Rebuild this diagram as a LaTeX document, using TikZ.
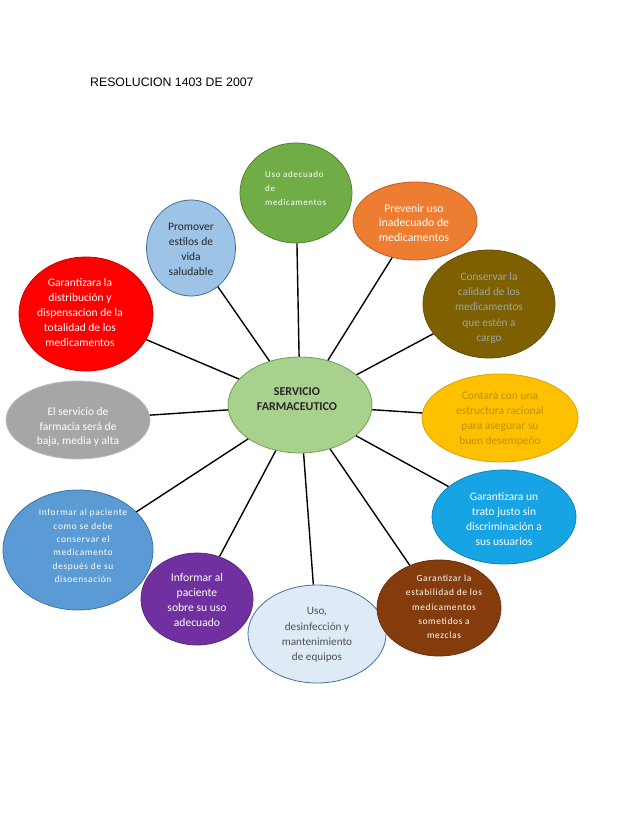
\documentclass[tikz,border=0pt]{standalone}
\usepackage{fontspec}
\setmainfont{Carlito}
\newfontfamily\titlefont{Liberation Sans}
\newfontfamily\widefont[LetterSpace=7]{Carlito}
\usepackage{tikz}
\usetikzlibrary{shapes.geometric}
\definecolor{centrefill}{RGB}{169, 209, 142}
\definecolor{centreline}{RGB}{112, 160, 80}
\definecolor{usofill}{RGB}{112, 173, 71}
\definecolor{usoline}{RGB}{84, 130, 53}
\definecolor{orangefill}{RGB}{237, 125, 49}
\definecolor{orangeline}{RGB}{190, 95, 35}
\definecolor{skyfill}{RGB}{157, 195, 230}
\definecolor{blueline}{RGB}{65, 113, 156}
\definecolor{olivefill}{RGB}{127, 96, 0}
\definecolor{olivetext}{RGB}{150, 170, 172}
\definecolor{redfill}{RGB}{255, 0, 0}
\definecolor{redline}{RGB}{200, 0, 0}
\definecolor{greyfill}{RGB}{166, 166, 166}
\definecolor{yellowfill}{RGB}{255, 192, 0}
\definecolor{yellowtext}{RGB}{191, 144, 0}
\definecolor{cyanfill}{RGB}{22, 164, 228}
\definecolor{midbluefill}{RGB}{91, 155, 213}
\definecolor{purplefill}{RGB}{112, 48, 160}
\definecolor{palefill}{RGB}{222, 235, 247}
\definecolor{paletext}{RGB}{80, 80, 80}
\definecolor{brownfill}{RGB}{132, 60, 12}
\definecolor{darktext}{RGB}{38, 38, 38}
\tikzstyle{bubble} = [ellipse, draw, line width=0.8pt, inner sep=0pt]
\tikzstyle{bubbletext} = [align=center, inner sep=0pt, font=\fontsize{11.5}{15}\selectfont]
\tikzstyle{line} = [draw, line width=1.4pt, black]

\begin{document}
\begin{tikzpicture}[x=1pt, y=-1pt]
    \useasboundingbox (0,0) rectangle (638,826);
    \node (title) [anchor=base west, inner sep=0pt, font=\titlefont\fontsize{12.3}{14}\selectfont] at (90,87) {RESOLUCION 1403 DE 2007};

    % ellipses
    \node (serv) [bubble, fill=centrefill, draw=centreline, minimum width=144pt, minimum height=96pt] at (300,405) {};
    \node (uso) [bubble, fill=usofill, draw=usoline, minimum width=112pt, minimum height=100pt] at (296,193) {};
    \node (prev) [bubble, fill=orangefill, draw=orangeline, minimum width=124pt, minimum height=78pt] at (415,221) {};
    \node (prom) [bubble, fill=skyfill, draw=blueline, minimum width=89pt, minimum height=96pt] at (191,248) {};
    \node (cons) [bubble, fill=olivefill, draw=olivefill!80!black, minimum width=132pt, minimum height=108pt] at (489,304) {};
    \node (dist) [bubble, fill=redfill, draw=redline, minimum width=134pt, minimum height=114pt] at (86,314) {};
    \node (nivel) [bubble, fill=greyfill, draw=greyfill!75, minimum width=144pt, minimum height=78pt] at (78,420) {};
    \node (estr) [bubble, fill=yellowfill, draw=yellowfill!85!black, minimum width=156pt, minimum height=88pt] at (500,418) {};
    \node (trato) [bubble, fill=cyanfill, draw=cyanfill!80!black, minimum width=144pt, minimum height=94pt] at (504,517) {};
    \node (guarda) [bubble, fill=midbluefill, draw=blueline, minimum width=150pt, minimum height=120pt] at (78,550) {};
    \node (info) [bubble, fill=purplefill, draw=purplefill!80!black, minimum width=112pt, minimum height=92pt] at (197,599) {};
    \node (equip) [bubble, fill=palefill, draw=blueline, minimum width=138pt, minimum height=98pt] at (317,634) {};
    \node (estab) [bubble, fill=brownfill, draw=brownfill!80!black, minimum width=124pt, minimum height=96pt] at (439,608) {};

    % texts
    \node (servtext) [bubbletext, text=darktext, font=\bfseries\fontsize{12}{15}\selectfont] at (297,399) {SERVICIO\\FARMACEUTICO};
    \node (usotext) [bubbletext, align=left, anchor=west, text=white, font=\widefont\fontsize{9}{14}\selectfont] at (265,188) {Uso adecuado\\de\\medicamentos};
    \node (prevtext) [bubbletext, text=white, font=\fontsize{11.7}{14.7}\selectfont] at (414,223) {Prevenir uso\\inadecuado de\\medicamentos};
    \node (promtext) [bubbletext, text=darktext] at (191,249) {Promover\\estilos de\\vida\\saludable};
    \node (constext) [bubbletext, text=olivetext, font=\fontsize{11.3}{15.3}\selectfont] at (489,308) {Conservar la\\calidad de los\\medicamentos\\que estén a\\cargo};
    \node (disttext) [bubbletext, text=white] at (80,313) {Garantizara la\\distribución y\\dispensacion de la\\totalidad de los\\medicamentos};
    \node (niveltext) [bubbletext, text=white, font=\fontsize{11.5}{14.5}\selectfont] at (78,427) {El servicio de\\farmacia será de\\baja, media y alta};
    \node (estrtext) [bubbletext, text=yellowtext, font=\fontsize{11.5}{14.8}\selectfont] at (500,419) {Contará con una\\estructura racional\\para asegurar su\\buen desempeño};
    \node (tratotext) [bubbletext, text=white] at (504,519) {Garantizara un\\trato justo sin\\discriminación a\\sus usuarios};
    \node (guardatext) [bubbletext, text=white, font=\widefont\fontsize{9.4}{13.4}\selectfont] at (83,546) {Informar al paciente\\como se debe\\conservar el\\medicamento\\después de su\\disoensación};
    \node (infotext) [bubbletext, text=white, font=\fontsize{11.6}{15}\selectfont] at (197,600) {Informar al\\paciente\\sobre su uso\\adecuado};
    \node (equiptext) [bubbletext, text=paletext, font=\fontsize{11.2}{15.2}\selectfont] at (317,635) {Uso,\\desinfección y\\mantenimiento\\de equipos};
    \node (estabtext) [bubbletext, text=white, font=\widefont\fontsize{9.4}{14.3}\selectfont] at (444,607) {Garantizar la\\estabilidad de los\\medicamentos\\sometidos a\\mezclas};

    % connectors
    \draw [line] (serv) -- (uso);
    \draw [line] (serv) -- (prev);
    \draw [line] (serv) -- (prom);
    \draw [line] (serv) -- (cons);
    \draw [line] (serv) -- (dist);
    \draw [line] (serv) -- (nivel);
    \draw [line] (serv) -- (estr);
    \draw [line] (serv) -- (trato);
    \draw [line] (serv) -- (guarda);
    \draw [line] (serv) -- (info);
    \draw [line] (serv) -- (equip);
    \draw [line] (serv) -- (estab);
\end{tikzpicture}
\end{document}
